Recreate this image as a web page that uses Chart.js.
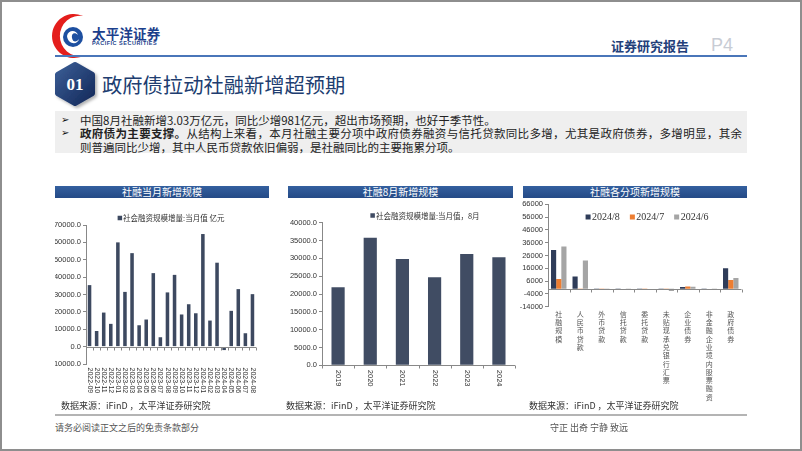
<!DOCTYPE html>
<html><head><meta charset="utf-8">
<script src="https://cdn.jsdelivr.net/npm/chart.js@4.4.0/dist/chart.umd.min.js"></script>
<style>
html,body{margin:0;padding:0;background:#fff;}
#page{position:relative;width:802px;height:451px;overflow:hidden;background:#fff;font-family:"Noto Sans CJK SC",sans-serif;}
.abs{position:absolute;white-space:nowrap;}
.bar{position:absolute;height:12px;background:linear-gradient(#34609f,#244a86);color:#fff;font-size:10px;line-height:12px;text-align:center;font-family:"Noto Sans CJK SC";}
canvas{position:absolute;}
.src{position:absolute;white-space:nowrap;font-size:9px;line-height:12px;color:#333;}
</style></head>
<body><div id="page">
<svg class="abs" style="left:45px;top:10px" width="50" height="52">
  <path d="M38.3,6.06 A22,22 0 1 0 38.3,45.94 A20.2,20.2 0 1 1 38.3,6.06 Z" fill="#e41e1c"/>
  <circle cx="28" cy="27" r="10" fill="#1d4fa0"/>
  <path d="M22,26 C23,20 31,19 33,25 C30,22 26,23 27,28 C28,33 32,32 34,29 C33,35 23,35 22,26 Z" fill="#fff"/>
</svg>
<div class="abs" style="left:92px;top:25px;font-size:13.5px;line-height:16px;font-weight:bold;color:#1c3f8c;letter-spacing:0.2px;">太平洋证券</div>
<div class="abs" style="left:92px;top:40px;font-size:5.5px;line-height:7px;font-family:'Liberation Sans';font-weight:bold;color:#1c3f8c;letter-spacing:0.5px;">PACIFIC SECURITIES</div>
<div class="abs" style="left:611px;top:38px;font-size:13px;line-height:16px;font-weight:bold;color:#24407a;">证券研究报告</div>
<div class="abs" style="left:711px;top:35px;font-size:18px;line-height:20px;font-family:'Liberation Sans Narrow','Liberation Sans';color:#c8ccd4;">P4</div>
<div class="abs" style="left:55px;top:55px;width:692px;height:2px;background:#4a76b9;"></div>

<svg class="abs" style="left:50px;top:57px" width="54" height="56">
  <defs>
    <linearGradient id="hg" x1="0" y1="0" x2="1" y2="1"><stop offset="0" stop-color="#3a5d95"/><stop offset="1" stop-color="#14295a"/></linearGradient>
    <filter id="sh" x="-30%" y="-30%" width="160%" height="160%"><feDropShadow dx="2" dy="2" stdDeviation="1.5" flood-color="#000" flood-opacity="0.3"/></filter>
  </defs>
  <polygon points="25,7.5 42.5,17.5 42.5,36.5 25,46.5 7.5,36.5 7.5,17.5" fill="url(#hg)" stroke="url(#hg)" stroke-width="5" stroke-linejoin="round" filter="url(#sh)"/>
  <text x="25" y="33" text-anchor="middle" font-family="Liberation Serif" font-weight="bold" font-size="17" fill="#fff">01</text>
</svg>
<div class="abs" style="left:102px;top:71px;font-size:20.3px;line-height:26px;color:#203d70;">政府债拉动社融新增超预期</div>

<div class="abs" style="left:55px;top:111px;width:692px;height:42px;background:#efefef;"></div>
<div class="abs" style="left:61px;top:112.5px;font-size:10px;line-height:14px;font-family:'DejaVu Sans';color:#111;">➢</div>
<div class="abs" style="left:80px;top:112.5px;font-size:11.5px;line-height:14px;color:#222;">中国8月社融新增3.03万亿元，同比少增981亿元，超出市场预期，也好于季节性。</div>
<div class="abs" style="left:61px;top:126px;font-size:10px;line-height:14px;font-family:'DejaVu Sans';color:#111;">➢</div>
<div class="abs" style="left:80px;top:126px;width:662px;font-size:11.5px;line-height:14px;color:#222;text-align:justify;text-align-last:justify;white-space:normal;"><b>政府债为主要支撑。</b>从结构上来看，本月社融主要分项中政府债券融资与信托贷款同比多增，尤其是政府债券，多增明显，其余</div>
<div class="abs" style="left:80px;top:139.5px;font-size:11.5px;line-height:14px;color:#222;">则普遍同比少增，其中人民币贷款依旧偏弱，是社融同比的主要拖累分项。</div>

<div class="bar" style="left:55px;top:186px;width:214px;">社融当月新增规模</div>
<div class="bar" style="left:288px;top:186px;width:225px;">社融8月新增规模</div>
<div class="bar" style="left:523px;top:186px;width:224px;">社融各分项新增规模</div>

<canvas id="c1" width="210" height="200" style="left:55px;top:200px;"></canvas>
<canvas id="c2" width="235" height="195" style="left:285px;top:200px;"></canvas>
<canvas id="c3" width="235" height="210" style="left:515px;top:195px;"></canvas>

<div class="src" style="left:61px;top:400px;">数据来源：iFinD ，太平洋证券研究院</div>
<div class="src" style="left:286px;top:400px;">数据来源：iFinD ，太平洋证券研究院</div>
<div class="src" style="left:529px;top:400px;">数据来源：iFinD ，太平洋证券研究院</div>
<div class="abs" style="left:55px;top:414px;width:692px;height:2px;background:#b4b4b4;"></div>
<div class="abs" style="left:55px;top:422px;font-size:9px;line-height:12px;color:#555;">请务必阅读正文之后的免责条款部分</div>
<div class="abs" style="left:550px;top:422px;font-size:9px;line-height:12px;color:#555;">守正 出奇 宁静 致远</div>
<div class="abs" style="left:0;top:0;width:802px;height:451px;box-sizing:border-box;border:2px solid #8e8e8e;"></div>
</div>
<script>
// ---- data ----
const monthLabels = ['2022-09','2022-10','2022-11','2022-12','2023-01','2023-02','2023-03','2023-04','2023-05','2023-06','2023-07','2023-08','2023-09','2023-10','2023-11','2023-12','2024-01','2024-02','2024-03','2024-04','2024-05','2024-06','2024-07','2024-08'];
const monthlyTSF = [35400,9000,19600,13100,60000,31500,53800,12300,15600,42300,5400,31200,41300,18500,24400,19200,64800,15000,48300,-1987,20600,33100,7700,30200];
const monthlyLabel = '社会融资规模增量:当月值 亿元';
const augYears = ['2019','2020','2021','2022','2023','2024'];
const augTSF = [21900,35800,29800,24700,31200,30300];
const augLabel = '社会融资规模增量:当月值，8月';
const itemCategories = ['社融规模','人民币贷款','外币贷款','信托贷款','委托贷款','未贴现承兑银行汇票','企业债券','非金融企业境内股票融资','政府债券'];
const seriesNames = ['2024/8','2024/7','2024/6'];
const aug2024 = [30300,9500,-200,300,-100,300,1300,200,16000];
const jul2024 = [7700,-800,-400,100,-200,-1000,1800,100,6900];
const jun2024 = [33000,22000,-300,200,100,-1800,1600,200,8400];

Chart.defaults.animation = false;
Chart.defaults.font.family = "'Liberation Sans', Arial, sans-serif";
Chart.defaults.color = '#333';

const inlineLegend = {
  id: 'inlineLegend',
  afterDraw(chart, args, o) {
    const ctx = chart.ctx;
    ctx.save();
    ctx.font = o.size + 'px ' + o.family;
    ctx.textBaseline = 'middle';
    const items = chart.data.datasets.map(d => ({t: d.label, c: d.backgroundColor}));
    const w = items.map(it => o.box + o.tg + ctx.measureText(it.t).width);
    const total = w.reduce((a, b) => a + b, 0) + o.gap * (items.length - 1);
    let x = o.cx - total / 2;
    items.forEach((it, i) => {
      ctx.fillStyle = it.c;
      ctx.fillRect(x, o.cy - o.box / 2, o.box, o.box);
      ctx.fillStyle = '#333';
      ctx.textAlign = 'left';
      ctx.fillText(it.t, x + o.box + o.tg, o.cy + 0.5);
      x += w[i] + o.gap;
    });
    ctx.restore();
  }
};
const zeroAxis = {
  id: 'zeroAxis',
  afterDatasetsDraw(chart, args, o) {
    const ctx = chart.ctx, xs = chart.scales.x, ys = chart.scales.y, a = chart.chartArea;
    const y0 = Math.round(ys.getPixelForValue(0)) + 0.5;
    ctx.save();
    ctx.strokeStyle = o.color; ctx.lineWidth = 1;
    ctx.beginPath();
    ctx.moveTo(a.left, y0); ctx.lineTo(a.right, y0);
    const n = chart.data.labels.length;
    for (let i = 0; i <= n; i++) {
      const px = Math.round(xs.getPixelForValue(i - 0.5)) + 0.5;
      ctx.moveTo(px, y0); ctx.lineTo(px, y0 + o.tick);
    }
    ctx.stroke();
    ctx.restore();
  }
};
const vLabels = {
  id: 'vLabels',
  afterDraw(chart, args, o) {
    const ctx = chart.ctx, xs = chart.scales.x, a = chart.chartArea;
    ctx.save();
    ctx.font = o.size + 'px ' + "'Liberation Sans', Arial";
    ctx.fillStyle = '#333';
    chart.data.labels.forEach((l, i) => {
      ctx.save();
      ctx.translate(xs.getPixelForValue(i), a.bottom + o.offset);
      ctx.rotate(Math.PI / 2);
      ctx.textAlign = 'left'; ctx.textBaseline = 'middle';
      ctx.fillText(l, 0, 0);
      ctx.restore();
    });
    ctx.restore();
  }
};

const yCommon = (min, max, step, w, fmt) => ({
  min, max,
  ticks: {stepSize: step, font: {size: 7.5}, padding: 2, callback: fmt, color: '#333'},
  grid: {display: true, drawOnChartArea: false, drawTicks: true, tickLength: 3, color: '#888'},
  border: {display: true, color: '#888'},
  afterFit: s => { s.width = w; }
});

new Chart(document.getElementById('c1'), {
  type: 'bar',
  data: {labels: monthLabels, datasets: [{label: monthlyLabel, data: monthlyTSF, backgroundColor: '#3d4960', barPercentage: 0.5, categoryPercentage: 1}]},
  options: {
    responsive: false,
    layout: {padding: {top: 25, right: 9, left: 0, bottom: 0}},
    plugins: {legend: {display: false}, tooltip: {enabled: false},
      inlineLegend: {cx: 116, cy: 18, size: 7.5, family: "'Noto Sans CJK SC'", box: 4.5, tg: 1, gap: 8},
      zeroAxis: {color: '#888', tick: 3},
      vLabels: {size: 7, offset: 3.5}},
    scales: {
      x: {ticks: {display: false}, grid: {display: false}, border: {display: false}, afterFit: s => { s.height = 36; }},
      y: yCommon(-10000, 70000, 10000, 31, v => v.toFixed(1))
    }
  },
  plugins: [inlineLegend, zeroAxis, vLabels]
});

new Chart(document.getElementById('c2'), {
  type: 'bar',
  data: {labels: augYears, datasets: [{label: augLabel, data: augTSF, backgroundColor: '#404c63', barPercentage: 0.41, categoryPercentage: 1}]},
  options: {
    responsive: false,
    layout: {padding: {top: 22.7, right: 5, left: 0, bottom: 0}},
    plugins: {legend: {display: false}, tooltip: {enabled: false},
      inlineLegend: {cx: 140, cy: 15.5, size: 7.5, family: "'Noto Sans CJK SC'", box: 4.5, tg: 1, gap: 8},
      zeroAxis: {color: '#888', tick: 3},
      vLabels: {size: 7.5, offset: 4.5}},
    scales: {
      x: {ticks: {display: false}, grid: {display: false}, border: {display: false}, afterFit: s => { s.height = 29.7; }},
      y: yCommon(0, 40000, 5000, 37, v => v.toFixed(1))
    }
  },
  plugins: [inlineLegend, zeroAxis, vLabels]
});

new Chart(document.getElementById('c3'), {
  type: 'bar',
  data: {labels: itemCategories.map(s => Array.from(s)), datasets: [
    {label: seriesNames[0], data: aug2024, backgroundColor: '#2f3c59', barPercentage: 1, categoryPercentage: 0.72},
    {label: seriesNames[1], data: jul2024, backgroundColor: '#ed7d31', barPercentage: 1, categoryPercentage: 0.72},
    {label: seriesNames[2], data: jun2024, backgroundColor: '#a5a5a5', barPercentage: 1, categoryPercentage: 0.72}
  ]},
  options: {
    responsive: false,
    layout: {padding: {top: 9.3, right: 8.5, left: 0, bottom: 0}},
    plugins: {legend: {display: false}, tooltip: {enabled: false},
      inlineLegend: {cx: 132, cy: 22, size: 10, family: "'Liberation Serif'", box: 5, tg: 1.5, gap: 10},
      zeroAxis: {color: '#888', tick: 3}},
    scales: {
      x: {ticks: {autoSkip: false, maxRotation: 0, minRotation: 0, padding: 3, font: {size: 7, family: "'Noto Sans CJK SC'", lineHeight: 1.19}, color: '#555'},
          grid: {display: false, drawTicks: false}, border: {display: false}, afterFit: s => { s.height = 98.3; }},
      y: yCommon(-14000, 66000, 10000, 33, v => String(v))
    }
  },
  plugins: [inlineLegend, zeroAxis]
});
</script>
</body></html>
